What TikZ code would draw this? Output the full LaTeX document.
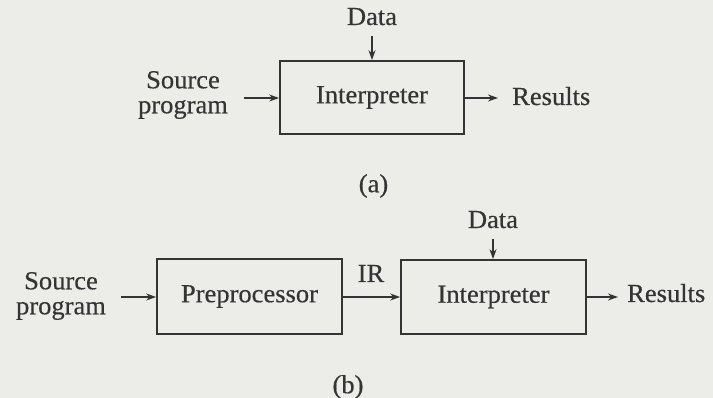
\documentclass[tikz,border=0pt]{standalone}
\usepackage{fontspec}
\setmainfont{Liberation Serif}[FakeStretch=1.02,FakeBold=0.4]
\usetikzlibrary{arrows.meta}
\definecolor{paper}{RGB}{236,236,233}
\definecolor{ink}{RGB}{52,52,52}
\begin{document}
\begin{tikzpicture}[x=1pt,y=-1pt,
  every node/.style={text=ink, font=\fontsize{26}{25}\selectfont},
  blk/.style={draw=ink, line width=1.7pt, inner sep=0pt},
  arr/.style={draw=ink, line width=1.5pt, -{Stealth[length=10pt,width=7pt]}},
  lbl/.style={inner sep=0pt, align=center}]
\fill[paper] (0,0) rectangle (713,398);
\useasboundingbox (0,0) rectangle (713,398);
% (a)
\node[blk, minimum width=184pt, minimum height=73pt] (intA) at (372,97.5) {Interpreter};
\node[lbl] (srcA) at (183,95) {Source\\program};
\node[lbl, anchor=base] (dataA) at (372,25) {Data};
\node[lbl, anchor=base west] (resA) at (512,105) {Results};
\node[lbl] (capA) at (373.5,186) {(a)};
\coordinate (inA) at (244,98);
\coordinate (outA) at (498,98);
\draw[arr] (inA) -- (inA -| intA.west);
\draw[arr] (intA.east |- outA) -- (outA);
\draw[arr] ([yshift=-11pt]dataA.base) -- (dataA.base |- intA.north);
% (b)
\node[blk, minimum width=185pt, minimum height=75pt] (pre) at (249.5,296.5) {Preprocessor};
\node[blk, minimum width=185pt, minimum height=74pt] (intB) at (493.5,297) {Interpreter};
\node[lbl] (srcB) at (61,296) {Source\\program};
\node[lbl, anchor=base] (ir) at (371,282) {IR};
\node[lbl, anchor=base] (dataB) at (493,228) {Data};
\node[lbl, anchor=base west] (resB) at (627,302) {Results};
\node[lbl] (capB) at (348,387) {(b)};
\coordinate (inB) at (121,297);
\coordinate (outB) at (618,297);
\draw[arr] (inB) -- (inB -| pre.west);
\draw[arr] (pre.east |- inB) -- (inB -| intB.west);
\draw[arr] (intB.east |- outB) -- (outB);
\draw[arr] ([yshift=-11pt]dataB.base) -- (dataB.base |- intB.north);
\end{tikzpicture}
\end{document}
